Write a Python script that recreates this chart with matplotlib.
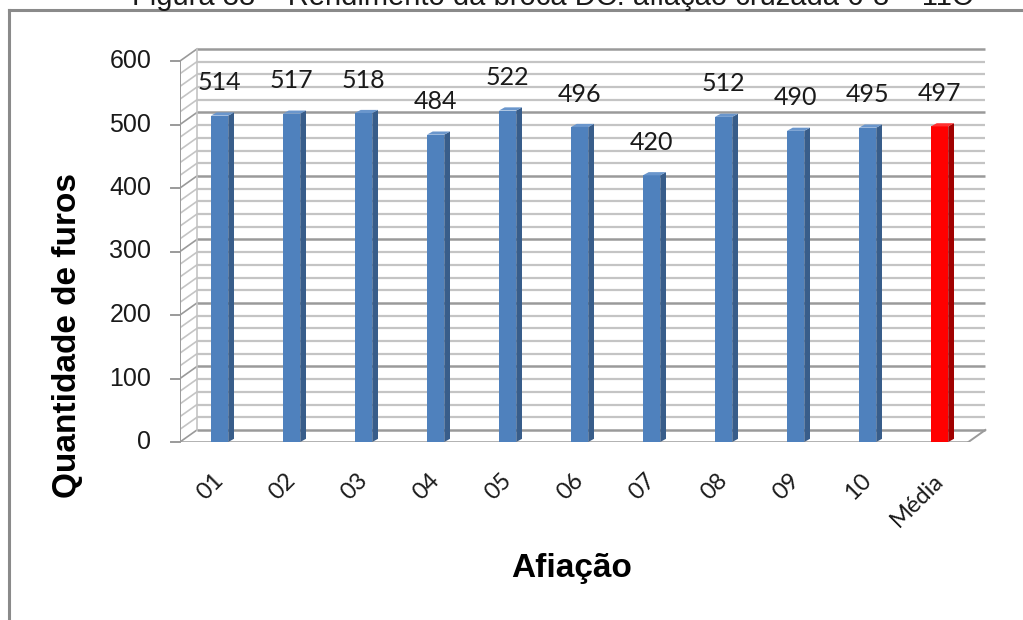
import matplotlib.pyplot as plt
from matplotlib.patches import Polygon
from matplotlib.lines import Line2D

# data
categories = ["01", "02", "03", "04", "05", "06", "07", "08", "09", "10", "Média"]
furos = [514, 517, 518, 484, 522, 496, 420, 512, 490, 495, 497]
bar_colors = ["#4f81bd"] * 10 + ["#ff0000"]
side_colors = ["#385d8a"] * 10 + ["#a00000"]
top_colors = ["#6a96cc"] * 10 + ["#ff3030"]
y_ticks = [0, 100, 200, 300, 400, 500, 600]

W, H = 1023, 620
fig = plt.figure(figsize=(W / 100, H / 100), dpi=100)

# axes placed in pixel space (front-left corner of the chart floor = (-0.55, 0))
px_left, px_right, px_bottom, px_top = 180, 990, 442, 40
ax = fig.add_axes([px_left / W, (H - px_bottom) / H,
                   (px_right - px_left) / W, (px_bottom - px_top) / H])
x0 = -0.55
x1 = x0 + (px_right - px_left) / 72
y1 = (px_bottom - px_top) / 0.635
ax.set_xlim(x0, x1)
ax.set_ylim(0, y1)
ax.axis("off")

dx, dy = 0.236, 19       # depth of the pseudo-3D walls
x_end = 10.4              # front-right corner of floor

# back wall gridlines + left wall diagonals
for v in range(0, 620, 20):
    major = v % 100 == 0
    col = "#9a9a9a" if major else "#c4c4c4"
    lw = 1.8 if major else 1.6
    ax.plot([x0 + dx, x_end + dx], [v + dy, v + dy], color=col, lw=lw,
            solid_capstyle="butt", zorder=1)
    ax.plot([x0, x0 + dx], [v, v + dy], color=col, lw=1.2, zorder=1)

ax.plot([x0, x0], [0, 600], color="#9a9a9a", lw=1.4, zorder=2)
ax.plot([x0 + dx, x0 + dx], [dy, 600 + dy], color="#c4c4c4", lw=1.2, zorder=1)
# floor
ax.plot([x0, x_end], [0, 0], color="#9a9a9a", lw=1.8, zorder=2)
ax.plot([x_end, x_end + dx], [0, dy], color="#9a9a9a", lw=1.4, zorder=2)

# y ticks
for v in y_ticks:
    ax.plot([x0 - 0.13, x0], [v, v], color="#9a9a9a", lw=1.4, clip_on=False)
    ax.text(x0 - 0.4, v, str(v), ha="right", va="center", fontsize=18,
            family="Liberation Sans", color="#1a1a1a")

# bars
bw, sdx, sdy = 0.24, 0.08, 5
for i, (val, fc, sc, tc) in enumerate(zip(furos, bar_colors, side_colors, top_colors)):
    l, r = i - bw / 2, i + bw / 2
    ax.add_patch(Polygon([(l, 0), (r, 0), (r, val), (l, val)], closed=True,
                         facecolor=fc, edgecolor="none", zorder=3))
    ax.add_patch(Polygon([(r, 0), (r + sdx, sdy), (r + sdx, val + sdy), (r, val)],
                         closed=True, facecolor=sc, edgecolor="none", zorder=3))
    ax.add_patch(Polygon([(l, val), (r, val), (r + sdx, val + sdy), (l + sdx, val + sdy)],
                         closed=True, facecolor=tc, edgecolor="none", zorder=3))
    ax.text(i, val + 52, str(val), ha="center", va="center", fontsize=18,
            family="Lato", color="#1a1a1a", zorder=4)
    ax.text(i - 0.1, -44, categories[i], ha="right", va="top", rotation=45,
            rotation_mode="anchor", fontsize=17, family="Lato", color="#1a1a1a")

fig.text(68 / W, 1 - 335 / H, "Quantidade de furos", rotation=90, ha="center",
         va="center", fontsize=24, fontweight="bold", family="Liberation Sans")
fig.text(572 / W, 1 - 568 / H, "Afiação", ha="center", va="center",
         fontsize=24, fontweight="bold", family="Liberation Sans")

# clipped caption at the very top and the surrounding frame
fig.text(552 / W, 1 - (-3) / H, "Figura 38 – Rendimento da broca DC: afiação cruzada 6-8 – 11C",
         ha="center", va="center", fontsize=21, family="Liberation Sans", color="#1a1a1a")
fig.add_artist(Line2D([9 / W, 9 / W], [0, 1 - 10 / H], color="#8a8a8a", lw=2.2))
fig.add_artist(Line2D([9 / W, 1], [1 - 10 / H, 1 - 10 / H], color="#8a8a8a", lw=2.2))

fig.savefig("out.png", dpi=100)
